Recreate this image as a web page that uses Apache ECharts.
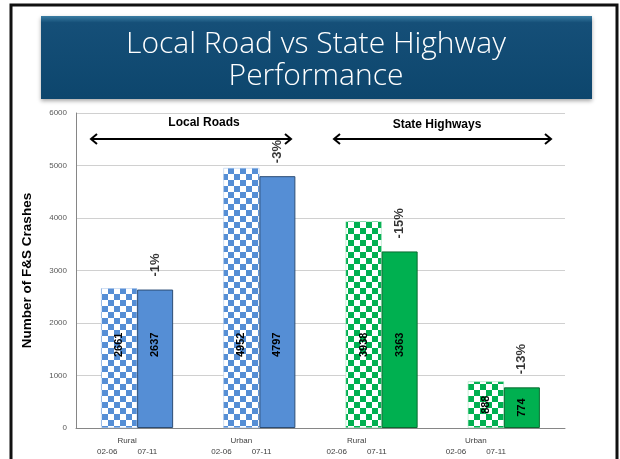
<!DOCTYPE html>
<html><head><meta charset="utf-8">
<script src="https://cdn.jsdelivr.net/npm/echarts@6/dist/echarts.min.js"></script>
<style>html,body{margin:0;padding:0;background:#fff}#c{width:620px;height:459px}</style>
</head><body><div id="c"></div>
<script>
const categories = ['Rural', 'Urban', 'Rural', 'Urban'];
const periods = ['02-06', '07-11'];
const values0206 = [2661, 4952, 3938, 888];
const values0711 = [2637, 4797, 3363, 774];
const pctChange = ['-1%', '-3%', '-15%', '-13%'];
const yTicks = [0, 1000, 2000, 3000, 4000, 5000, 6000];

const BLUE = '#558ED5', GREEN = '#00B050';
const groupColor = i => (i < 2 ? BLUE : GREEN);

function checker(color) {
  const s = 6, c = document.createElement('canvas');
  c.width = s * 2; c.height = s * 2;
  const g = c.getContext('2d');
  g.fillStyle = '#ffffff'; g.fillRect(0, 0, 2 * s, 2 * s);
  g.fillStyle = color; g.fillRect(0, 0, s, s); g.fillRect(s, s, s, s);
  return { image: c, repeat: 'repeat' };
}
const patBlue = checker(BLUE), patGreen = checker(GREEN);

function valueLabel(v) {
  const base = { show: true, rotate: 90, fontSize: 11, fontWeight: 'bold', color: '#000',
    fontFamily: 'Liberation Sans', formatter: '{c}' };
  if (v > 2000) return Object.assign(base, { position: 'insideBottom', distance: 71, align: 'left', verticalAlign: 'middle' });
  return Object.assign(base, { position: 'inside', align: 'center', verticalAlign: 'middle' });
}

const shifts = [-10, -18, -25, -28];

const chart = echarts.init(document.getElementById('c'), null, { renderer: 'canvas' });
chart.setOption({
  animation: false,
  backgroundColor: '#fff',
  grid: { left: 76, right: 55, top: 113, bottom: 31, containLabel: false },
  xAxis: {
    type: 'category',
    data: categories.map((c, i) => ({ value: c, textStyle: { padding: [0, -2 * shifts[i], 0, 0] } })),
    axisLine: { lineStyle: { color: '#868686' } },
    axisTick: { show: false },
    axisLabel: {
      margin: 8, fontSize: 8, color: '#404040', fontFamily: 'Liberation Sans', lineHeight: 10,
      formatter: v => '{n|' + v + '}\n{p|' + periods[0] + '}{g|}{p|' + periods[1] + '}',
      rich: { n: { fontSize: 8, lineHeight: 10 }, p: { fontSize: 8, lineHeight: 11 }, g: { width: 20 } }
    }
  },
  yAxis: {
    type: 'value', min: yTicks[0], max: yTicks[yTicks.length - 1], interval: yTicks[1] - yTicks[0],
    name: 'Number of F&S Crashes', nameLocation: 'middle', nameGap: 42,
    nameTextStyle: { fontSize: 13.5, fontWeight: 'bold', color: '#000', fontFamily: 'Liberation Sans' },
    axisLine: { show: true, lineStyle: { color: '#868686' } },
    axisTick: { show: false },
    axisLabel: { fontSize: 8, color: '#595959', margin: 9, fontFamily: 'Liberation Sans', formatter: v => String(v) },
    splitLine: { lineStyle: { color: '#d0d0d0' } }
  },
  series: [
    {
      type: 'bar', name: periods[0], barWidth: 36, barGap: '0%',
      data: values0206.map((v, i) => ({ value: v,
        itemStyle: { color: i < 2 ? patBlue : patGreen, borderColor: i < 2 ? '#9fbfe8' : '#8fdcae', borderWidth: 0.5 },
        label: valueLabel(v) }))
    },
    {
      type: 'bar', name: periods[1], barWidth: 36,
      data: values0711.map((v, i) => ({ value: v,
        itemStyle: { color: groupColor(i), borderColor: i < 2 ? '#2c4d75' : '#0a6b30', borderWidth: 1 },
        label: valueLabel(v) }))
    },
    {
      type: 'scatter', symbolSize: 0, silent: true,
      data: values0711.map((v, i) => [i, v]),
      label: { show: true, position: 'top', rotate: 90, align: 'left', verticalAlign: 'middle',
        distance: 13, offset: [0, 18], fontSize: 13, fontWeight: 'bold', color: '#000', fontFamily: 'Liberation Sans',
        formatter: p => pctChange[p.dataIndex] }
    }
  ],
  graphic: [
    { type: 'rect', shape: { x: 11, y: 5, width: 606, height: 470 }, style: { fill: 'none', stroke: '#111', lineWidth: 3 }, z: 100 },
    { type: 'rect', shape: { x: 41, y: 16, width: 551, height: 83 },
      style: { fill: new echarts.graphic.LinearGradient(0, 0, 0, 1, [
        { offset: 0, color: '#3a7da3' }, { offset: 0.08, color: '#154f78' }, { offset: 1, color: '#0d466d' }]),
        shadowBlur: 4, shadowColor: 'rgba(0,0,0,0.35)', shadowOffsetY: 2 } },
    { type: 'text', x: 316, y: 28, style: { text: 'Local Road vs State Highway\nPerformance', fill: '#fff',
      font: '300 30px "Open Sans"', align: 'center', verticalAlign: 'top', lineHeight: 32 } },
    { type: 'text', x: 204, y: 123, style: { text: 'Local Roads', fill: '#000', font: 'bold 12px "Liberation Sans"', align: 'center', verticalAlign: 'middle' } },
    { type: 'text', x: 437, y: 125, style: { text: 'State Highways', fill: '#000', font: 'bold 12px "Liberation Sans"', align: 'center', verticalAlign: 'middle' } },
    { type: 'line', shape: { x1: 91, y1: 139, x2: 291, y2: 139 }, style: { stroke: '#000', lineWidth: 2 } },
    { type: 'polyline', shape: { points: [[97, 134], [91, 139], [97, 144]] }, style: { stroke: '#000', lineWidth: 2, fill: 'none' } },
    { type: 'polyline', shape: { points: [[285, 134], [291, 139], [285, 144]] }, style: { stroke: '#000', lineWidth: 2, fill: 'none' } },
    { type: 'line', shape: { x1: 334, y1: 139, x2: 551, y2: 139 }, style: { stroke: '#000', lineWidth: 2 } },
    { type: 'polyline', shape: { points: [[340, 134], [334, 139], [340, 144]] }, style: { stroke: '#000', lineWidth: 2, fill: 'none' } },
    { type: 'polyline', shape: { points: [[545, 134], [551, 139], [545, 144]] }, style: { stroke: '#000', lineWidth: 2, fill: 'none' } }
  ]
});
</script></body></html>
